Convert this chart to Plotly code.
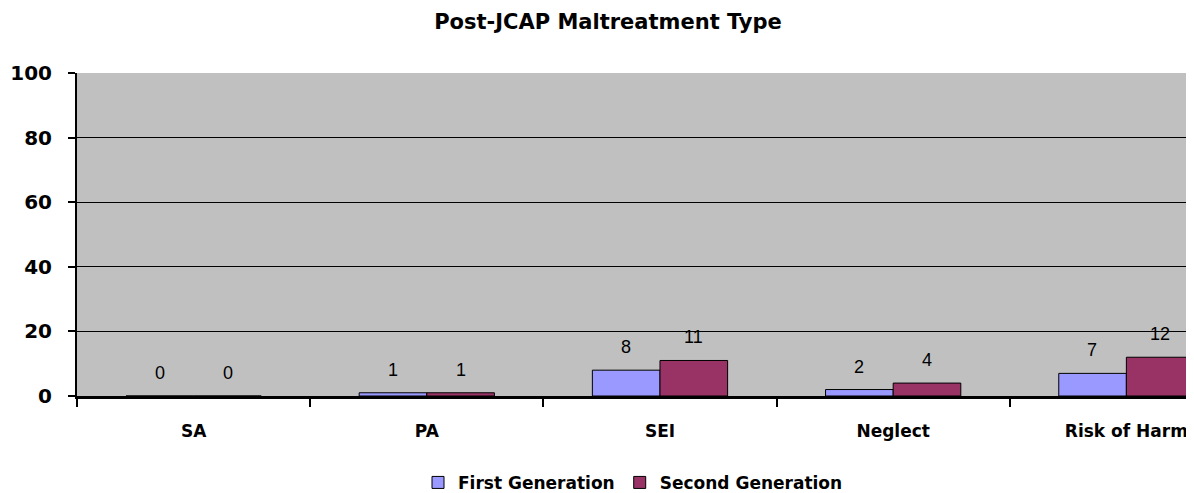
import plotly.graph_objects as go

categories = ["SA", "PA", "SEI", "Neglect", "Risk of Harm"]
first_gen = [0, 1, 8, 2, 7]
second_gen = [0, 1, 11, 4, 12]
y_ticks = [0, 20, 40, 60, 80, 100]

BOLD = "DejaVu Sans"
series = [("First Generation", first_gen, "#9999FF", -34),
          ("Second Generation", second_gen, "#993366", 34)]

# page body has an 8px margin, so the figure is sized/offset to fill the window
W, H = 1186, 485

fig = go.Figure()
for name, vals, color, dx in series:
    fig.add_trace(go.Bar(
        name=name, x=categories, y=vals,
        marker=dict(color=color, line=dict(color="black", width=1)),
    ))
    for c, v in zip(categories, vals):
        fig.add_annotation(x=c, y=v, text=str(v), showarrow=False,
                           xshift=dx, yshift=23, yanchor="middle",
                           font=dict(family="Liberation Sans", size=18, color="black"))

fig.update_layout(
    width=W, height=H,
    margin=dict(l=69, r=0, t=65, b=97, autoexpand=False),
    paper_bgcolor="white", plot_bgcolor="#C0C0C0",
    barmode="group", bargap=0.42, bargroupgap=0,
    title=dict(text="Post-JCAP Maltreatment Type", x=600/W, xref="container",
               xanchor="center", y=1 - 14/H, yanchor="middle",
               font=dict(family=BOLD, size=21, color="black", weight="bold")),
    legend=dict(orientation="h", x=(633-77)/1117, xanchor="center", y=-0.269, yanchor="middle",
                font=dict(family=BOLD, size=17, color="black", weight="bold"),
                traceorder="normal"),
)
fig.update_xaxes(
    type="category", range=[-0.5, 4.29], automargin=False,
    showline=True, linecolor="black", linewidth=3,
    ticks="outside", tickson="boundaries", ticklen=8, tickwidth=2, tickcolor="black",
    tickfont=dict(family=BOLD, size=17, color="black", weight="bold"),
    ticklabelstandoff=18,
    showgrid=False,
)
fig.update_yaxes(
    range=[0, 100], tickvals=y_ticks, automargin=False,
    showline=True, linecolor="black", linewidth=2,
    ticks="outside", ticklen=7, tickwidth=2, tickcolor="black",
    tickfont=dict(family=BOLD, size=20, color="black", weight="bold"),
    ticklabelstandoff=12,
    showgrid=True, gridcolor="black", gridwidth=1,
    zeroline=False,
)
fig.write_html("out.html")
